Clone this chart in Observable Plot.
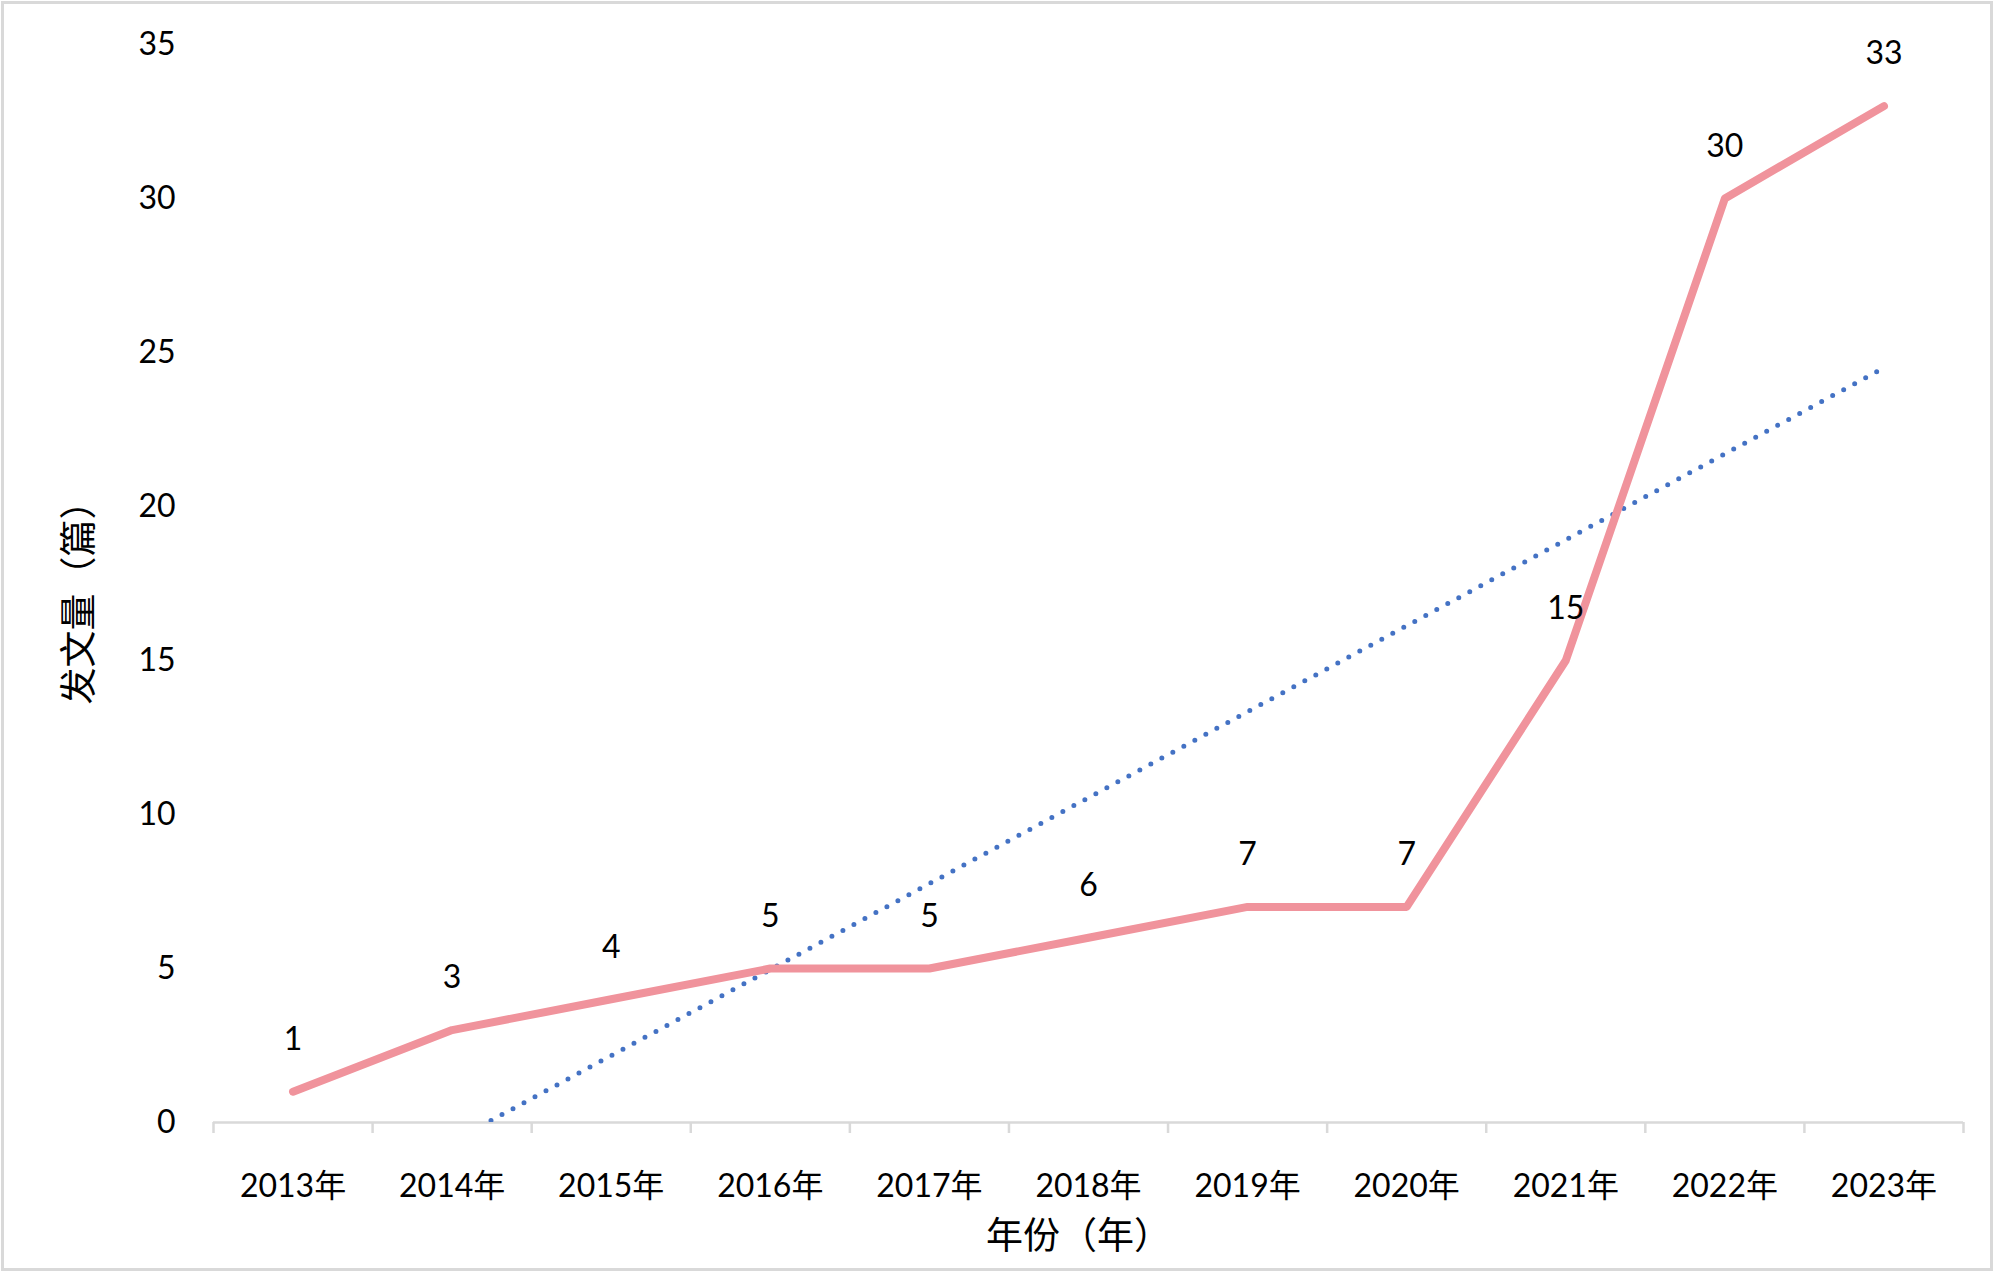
<!DOCTYPE html>
<html>
<head>
<meta charset="utf-8">
<script src="https://cdn.jsdelivr.net/npm/d3@7"></script>
<script src="https://cdn.jsdelivr.net/npm/@observablehq/plot@0.6"></script>
<style>
  html, body { margin: 0; padding: 0; background: #fff; }
  #wrap { position: relative; width: 2000px; height: 1279px; }
  #border { position: absolute; left: 1px; top: 1px; width: 1986px; height: 1264px; border: 3px solid #d9d9d9; pointer-events: none; }
</style>
</head>
<body>
<div id="wrap"><div id="border"></div></div>
<script>
const years = [2013, 2014, 2015, 2016, 2017, 2018, 2019, 2020, 2021, 2022, 2023];
const counts = [1, 3, 4, 5, 5, 6, 7, 7, 15, 30, 33];
const yTicks = [0, 5, 10, 15, 20, 25, 30, 35];
const xTitle = "年份（年）";
const yTitle = "发文量（篇）";

const data = years.map((year, i) => ({year, count: counts[i]}));
const boundaries = years.map(y => y - 0.5).concat([years[years.length - 1] + 0.5]);

const font = "Lato, 'Noto Sans CJK SC', sans-serif";
const pink = "#F0939C";
const blue = "#4472C4";
const axisGray = "#d9d9d9";

const chart = Plot.plot({
  width: 2000,
  height: 1279,
  marginLeft: 213,
  marginRight: 37,
  marginTop: 44,
  marginBottom: 157,
  style: {fontFamily: font, color: "#000", background: "transparent"},
  x: {type: "linear", domain: [boundaries[0], boundaries[boundaries.length - 1]]},
  y: {domain: [0, 35]},
  marks: [
    Plot.ruleY([0], {stroke: axisGray, strokeWidth: 2.5}),
    Plot.axisX(boundaries, {tickSize: 11, fill: "none", stroke: axisGray, strokeWidth: 2.5, label: null}),
    Plot.axisX(years, {tickSize: 0, tickPadding: 52, tickFormat: d => d + "年", label: null, fontSize: 32}),
    Plot.axisY(yTicks, {tickSize: 0, tickPadding: 38, label: null, fontSize: 32}),
    Plot.linearRegressionY(data, {x: "year", y: "count", ci: 0, stroke: blue, strokeWidth: 5, strokeDasharray: "0 12.5", strokeLinecap: "round", clip: true}),
    Plot.line(data, {x: "year", y: "count", stroke: pink, strokeWidth: 8, strokeLinecap: "round", strokeLinejoin: "round"}),
    Plot.text(data, {x: "year", y: "count", text: d => String(d.count), dy: -52, fontSize: 32, fill: "#000"}),
    Plot.text([xTitle], {frameAnchor: "bottom", textAnchor: "middle", lineAnchor: "middle", dy: 115, dx: -10, fontSize: 37, fill: "#000"}),
    Plot.text([yTitle], {frameAnchor: "left", textAnchor: "middle", lineAnchor: "middle", rotate: -90, dx: -133, dy: 10, fontSize: 37, fill: "#000"})
  ]
});
document.getElementById("wrap").appendChild(chart);
chart.style.position = "absolute";
chart.style.left = "0";
chart.style.top = "0";
</script>
</body>
</html>
